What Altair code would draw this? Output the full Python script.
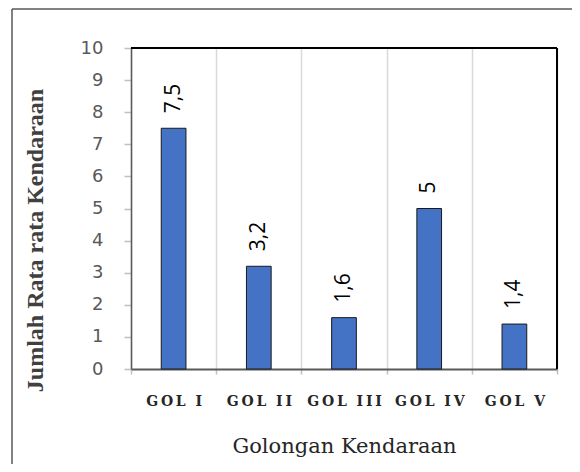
import altair as alt
import pandas as pd

categories = ["GOL I", "GOL II", "GOL III", "GOL IV", "GOL V"]
values = [7.5, 3.2, 1.6, 5.0, 1.4]
value_labels = ["7,5", "3,2", "1,6", "5", "1,4"]
y_ticks = [0, 1, 2, 3, 4, 5, 6, 7, 8, 9, 10]

x_title = "Golongan Kendaraan"
y_title = "Jumlah Rata rata Kendaraan"


def spaced(s):
    return "\u2002\u2009".join("\u2009".join(w) for w in s.split(" "))


df = pd.DataFrame({
    "cat": [spaced(c) for c in categories],
    "value": values,
    "label": value_labels,
})

W, H = 426, 321

x_enc = alt.X(
    "cat:N", sort=None,
    scale=alt.Scale(paddingInner=0, paddingOuter=0),
    axis=alt.Axis(
        title=x_title, tickBand="extent", grid=True, gridColor="#d9d9d9", gridWidth=1.5,
        domainColor="#595959", domainWidth=2, tickColor="#bfbfbf", tickSize=5, tickWidth=1.5,
        labelAngle=0, labelFont="DejaVu Serif", labelFontSize=14, labelFontWeight="bold",
        labelColor="#262626", labelPadding=20, titleFont="DejaVu Serif", titleFontSize=21,
        titleFontWeight="normal", titleColor="#262626", titleY=83, titleBaseline="alphabetic",
    ),
)
y_enc = alt.Y(
    "value:Q",
    scale=alt.Scale(domain=[0, 10], nice=False),
    axis=alt.Axis(
        values=y_ticks, format="d", grid=False, title=y_title,
        domainColor="#595959", domainWidth=1.5, tickColor="#bfbfbf", tickSize=7, tickWidth=1.5,
        labelFont="DejaVu Sans", labelFontSize=18, labelColor="#595959", labelPadding=21,
        titleFont="Liberation Serif", titleFontSize=24, titleFontWeight="bold", titleColor="#404040",
        titleAngle=270, titleX=-89, titleY=192, titleBaseline="alphabetic", titleAlign="center",
    ),
)

base = alt.Chart(df)
bars = base.mark_bar(width=alt.RelativeBandSize(0.29), color="#4472C4", stroke="#1a1a1a", strokeWidth=1).encode(
    x=x_enc, y=y_enc
)
texts = base.mark_text(angle=270, align="left", baseline="middle", dx=15, font="Open Sans", fontSize=21,
                       color="black").encode(x=x_enc, y=y_enc, text="label:N")

one = pd.DataFrame({"a": [0]})
top_rule = alt.Chart(one).mark_rule(color="black", strokeWidth=2).encode(
    x=alt.value(0), x2=alt.value(W), y=alt.value(0))
right_rule = alt.Chart(one).mark_rule(color="black", strokeWidth=2).encode(
    x=alt.value(W), y=alt.value(0), y2=alt.value(H))
frame_v = alt.Chart(one).mark_rule(color="#595959", strokeWidth=1.5).encode(
    x=alt.value(-119), y=alt.value(-39), y2=alt.value(430))
frame_h = alt.Chart(one).mark_rule(color="#595959", strokeWidth=1.5).encode(
    x=alt.value(-119), x2=alt.value(470), y=alt.value(-39))

chart = alt.layer(bars, texts, top_rule, right_rule, frame_v, frame_h).properties(
    width=W, height=H,
    padding={"left": 123, "top": 40, "right": 15, "bottom": 95},
    autosize=alt.AutoSizeParams(type="none"),
    background="white",
).configure_view(strokeWidth=0)

chart.save("out.html", embed_options={"renderer": "svg", "actions": False})
